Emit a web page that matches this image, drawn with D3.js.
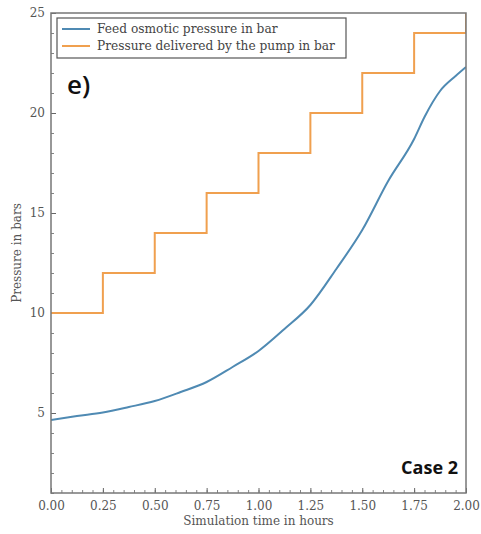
<!DOCTYPE html>
<html>
<head>
<meta charset="utf-8">
<script src="https://cdn.jsdelivr.net/npm/d3@7"></script>
<style>
  body { margin: 0; background: #fff; }
  svg { font-family: "DejaVu Serif", serif; }
</style>
</head>
<body>
<div id="chart"></div>
<script>
// data
const timeHours = [0, 0.125, 0.25, 0.375, 0.5, 0.625, 0.75, 0.875, 1.0, 1.125, 1.25, 1.375, 1.5, 1.625, 1.75, 1.8, 1.875, 1.95, 2.0];
const osmoticPressure = [4.65, 4.85, 5.03, 5.3, 5.6, 6.05, 6.55, 7.3, 8.1, 9.2, 10.4, 12.2, 14.15, 16.6, 18.7, 19.8, 21.1, 21.85, 22.3];
const stepTimes = [0, 0.25, 0.5, 0.75, 1.0, 1.25, 1.5, 1.75, 2.0];
const pumpPressure = [10, 12, 14, 16, 18, 20, 22, 24, 26];
const xTickValues = [0, 0.25, 0.5, 0.75, 1.0, 1.25, 1.5, 1.75, 2.0];
const yTickValues = [5, 10, 15, 20, 25];
const seriesNames = ["Feed osmotic pressure in bar", "Pressure delivered by the pump in bar"];
const seriesColors = ["#4f8ab3", "#f0a04f"];

const W = 481, H = 534;
const margin = { top: 13, right: 15, bottom: 41, left: 51 };
const width = W - margin.left - margin.right;
const height = H - margin.top - margin.bottom;

const svg = d3.select("#chart").append("svg")
  .attr("width", W).attr("height", H);
const g = svg.append("g")
  .attr("transform", "translate(" + margin.left + "," + margin.top + ")");

const x = d3.scaleLinear().domain([0, 2]).range([0, width]);
const y = d3.scaleLinear().domain([1, 25]).range([height, 0]);

g.append("clipPath").attr("id", "clip")
  .append("rect").attr("width", width).attr("height", height);

// minor ticks
const xMinor = d3.axisBottom(x).tickValues(d3.range(0, 2.0001, 0.05)).tickSize(-3).tickFormat("");
const yMinor = d3.axisLeft(y).tickValues(d3.range(1, 25.0001, 1)).tickSize(-3).tickFormat("");
[g.append("g").attr("transform", "translate(0," + height + ")").call(xMinor),
 g.append("g").call(yMinor)].forEach(a => {
  a.select(".domain").remove();
  a.selectAll("line").attr("stroke", "#666").attr("stroke-width", 0.8);
});

// major axes
const xAxis = d3.axisBottom(x).tickValues(xTickValues).tickFormat(d3.format(".2f"))
  .tickSize(-5).tickPadding(8).tickSizeOuter(0);
const yAxis = d3.axisLeft(y).tickValues(yTickValues).tickFormat(d3.format("d"))
  .tickSize(-5).tickPadding(6).tickSizeOuter(0);
const xAxisEl = g.append("g").attr("transform", "translate(0," + height + ")").call(xAxis);
const yAxisEl = g.append("g").call(yAxis);
[xAxisEl, yAxisEl].forEach(a => {
  a.select(".domain").remove();
  a.selectAll("line").attr("stroke", "#666").attr("stroke-width", 1);
  a.selectAll("text").attr("fill", "#555").attr("font-size", 12)
    .attr("font-family", "DejaVu Serif, serif");
});

// lines
const osmoticData = timeHours.map((t, i) => [t, osmoticPressure[i]]);
const pumpData = stepTimes.map((t, i) => [t, pumpPressure[i]]);

const plot = g.append("g").attr("clip-path", "url(#clip)");

plot.append("path")
  .datum(pumpData)
  .attr("fill", "none")
  .attr("stroke", seriesColors[1])
  .attr("stroke-width", 2)
  .attr("d", d3.line().x(d => x(d[0])).y(d => y(d[1])).curve(d3.curveStepAfter));

plot.append("path")
  .datum(osmoticData)
  .attr("fill", "none")
  .attr("stroke", seriesColors[0])
  .attr("stroke-width", 2)
  .attr("d", d3.line().x(d => x(d[0])).y(d => y(d[1])).curve(d3.curveMonotoneX));

// frame
g.append("rect")
  .attr("width", width).attr("height", height)
  .attr("fill", "none").attr("stroke", "#777").attr("stroke-width", 1.5);

// axis titles
svg.append("text")
  .attr("x", margin.left + width / 2).attr("y", 525)
  .attr("text-anchor", "middle").attr("font-size", 12).attr("fill", "#555")
  .text("Simulation time in hours");
svg.append("text")
  .attr("transform", "translate(21," + (margin.top + height / 2) + ") rotate(-90)")
  .attr("text-anchor", "middle").attr("font-size", 12).attr("fill", "#555")
  .text("Pressure in bars");

// legend
const legend = g.append("g").attr("transform", "translate(6,5)");
legend.append("rect")
  .attr("width", 289).attr("height", 40)
  .attr("fill", "#fff").attr("stroke", "#555").attr("stroke-width", 1.2);
seriesNames.forEach((name, i) => {
  const ly = 11 + i * 17;
  legend.append("line")
    .attr("x1", 5).attr("x2", 33).attr("y1", ly).attr("y2", ly)
    .attr("stroke", seriesColors[i]).attr("stroke-width", 2);
  legend.append("text")
    .attr("x", 40).attr("y", ly + 4)
    .attr("font-size", 12.2).attr("fill", "#444")
    .text(name);
});

// annotations
svg.append("text")
  .attr("x", 67).attr("y", 94)
  .attr("font-family", "Open Sans, sans-serif").attr("font-weight", 600)
  .attr("font-size", 26).attr("fill", "#111")
  .text("e)");
svg.append("text")
  .attr("x", 458).attr("y", 474).attr("text-anchor", "end")
  .attr("font-family", "Open Sans, sans-serif").attr("font-weight", "bold")
  .attr("font-size", 18).attr("fill", "#111")
  .text("Case 2");
</script>
</body>
</html>
